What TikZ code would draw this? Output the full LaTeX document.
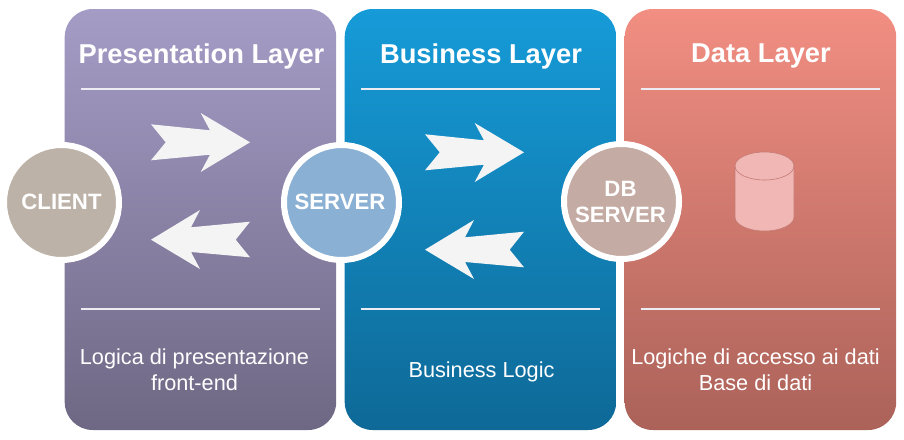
\documentclass[tikz,border=0pt]{standalone}
\usepackage{fontspec}
\setmainfont{Liberation Sans}
\definecolor{arrowfill}{HTML}{F4F4F4}
\definecolor{cylfill}{HTML}{F0B7B5}
\definecolor{cylline}{HTML}{C47B73}
\definecolor{ruleline}{HTML}{ECECF2}
\definecolor{pa}{RGB}{165,156,198}
\definecolor{pb}{RGB}{110,104,132}
\definecolor{qa}{RGB}{22,155,216}
\definecolor{qb}{RGB}{14,105,151}
\definecolor{ra}{RGB}{242,142,130}
\definecolor{rb}{RGB}{171,98,89}
\definecolor{hclient}{RGB}{189,178,167}
\definecolor{hserver}{RGB}{138,176,212}
\definecolor{hdb}{RGB}{196,171,163}
\tikzset{
  panel/.style={rounded corners=28pt,minimum width=271.5pt,minimum height=421pt,inner sep=0pt,outer sep=0pt,anchor=north west},
  hub/.style={circle,draw=white,line width=6pt,minimum size=115pt,inner sep=0pt},
  hubtext/.style={text=white,font=\bfseries\fontsize{22.2}{26}\selectfont,align=center,inner sep=0pt},
  title/.style={text=white,font=\bfseries\fontsize{27.3}{32}\selectfont,anchor=center,inner sep=0pt},
  body/.style={text=white,font=\fontsize{21.7}{26}\selectfont,align=center,anchor=center,inner sep=0pt},
  rulea/.style={draw=ruleline,line width=1.8pt},
  cyl/.style={draw=cylline,line width=0.6pt},
  rightarrow/.pic={\fill[arrowfill] (250,142.3)--(200.7,113)--(210,130.3)--(151,124.3)--(165.7,142.3)--(151,160.3)--(210,154.7)--(200.7,172)--cycle;},
  leftarrow/.pic={\fill[arrowfill] (151,239.7)--(200,210)--(191,227.3)--(250,221.7)--(235.7,239.7)--(250,257.3)--(191,252)--(200,269)--cycle;},
}
\begin{document}
\begin{tikzpicture}[x=1pt,y=-1pt]
\useasboundingbox (0,0) rectangle (904,439);
\node[panel,top color=pa,bottom color=pb] (p1) at (64.7,9) {};
\node[panel,top color=qa,bottom color=qb] (p2) at (344.7,9) {};
\node[panel,top color=ra,bottom color=rb] (p3) at (624.7,9) {};

\node[title] (t1) at (201.5,56) {Presentation Layer};
\node[title] (t2) at (481,56) {Business Layer};
\node[title] (t3) at (761,56) {Data Layer};

\coordinate (a1) at (80.5,89); \coordinate (b1) at (320,89);
\coordinate (a2) at (360.5,89); \coordinate (b2) at (600,89);
\coordinate (a3) at (640.5,89); \coordinate (b3) at (880,89);
\coordinate (c1) at (80.5,309); \coordinate (d1) at (320,309);
\coordinate (c2) at (360.5,309); \coordinate (d2) at (600,309);
\coordinate (c3) at (640.5,309); \coordinate (d3) at (880,309);
\foreach \i in {1,2,3}{
  \draw[rulea] (a\i) -- (b\i);
  \draw[rulea] (c\i) -- (d\i);
}

\pic at (0,0) {rightarrow};
\pic at (0,0) {leftarrow};
\pic at (274,10) {rightarrow};
\pic at (274,10) {leftarrow};

\node[hub,fill=hclient] (client) at (61.5,202.5) {};
\node[hub,fill=hserver] (server) at (341.5,202.5) {};
\node[hub,fill=hdb] (db) at (621.5,201.5) {};
\node[hubtext] (clientlabel) at (61.5,202) {CLIENT};
\node[hubtext] (serverlabel) at (340,202) {SERVER};
\node[hubtext] (dblabel) at (620.5,202) {DB\\SERVER};

\filldraw[cyl,fill=cylfill] (735,166) -- (735,217) arc[start angle=180,end angle=360,x radius=29.5pt,y radius=14pt] -- (794,166) arc[start angle=0,end angle=180,x radius=29.5pt,y radius=14pt] -- cycle;
\draw[cyl] (735,166) arc[start angle=180,end angle=360,x radius=29.5pt,y radius=14pt];

\node[body] (l1) at (194.5,370) {Logica di presentazione\\front-end};
\node[body] (l2) at (481.5,371.5) {Business Logic};
\node[body] (l3) at (755.5,370) {Logiche di accesso ai dati\\Base di dati};
\end{tikzpicture}
\end{document}
